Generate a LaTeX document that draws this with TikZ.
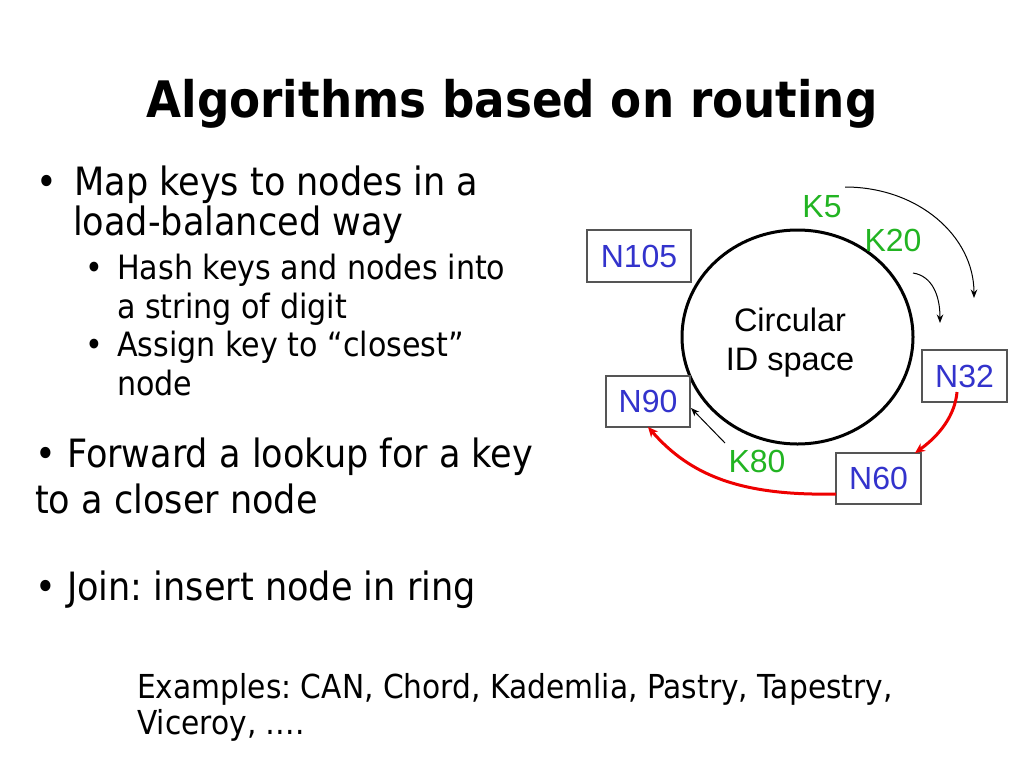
\documentclass[tikz,border=0pt]{standalone}
\usepackage{fontspec}
\setmainfont{DejaVu Sans}[FakeStretch=0.9]
\newfontfamily\arialf{Liberation Sans}
\usetikzlibrary{arrows.meta}
\definecolor{nblue}{HTML}{3333CC}
\definecolor{kgreen}{HTML}{22B422}
\definecolor{rred}{HTML}{EE0000}
\definecolor{boxgray}{HTML}{555555}
\frenchspacing
\begin{document}
\begin{tikzpicture}[x=1pt,y=-1pt,
  txt/.style={inner sep=0pt, anchor=base west, font=\fontsize{39}{46}\selectfont},
  subtxt/.style={inner sep=0pt, anchor=base west, font=\fontsize{33.5}{40}\selectfont},
  extxt/.style={inner sep=0pt, anchor=base west, font=\fontsize{33}{40}\selectfont},
  titletxt/.style={inner sep=0pt, anchor=base, font=\fontsize{50.3}{60}\selectfont\bfseries},
  nbox/.style={draw=boxgray, line width=1.2pt, text=nblue, inner sep=0pt,
    font=\arialf\fontsize{32}{38}\selectfont},
  klabel/.style={inner sep=0pt, anchor=base, text=kgreen, font=\arialf\fontsize{32}{38}\selectfont},
  ctxt/.style={inner sep=0pt, anchor=base, font=\arialf\fontsize{32.5}{38}\selectfont},
  thinarrow/.style={draw=black, line width=1pt, -{Stealth[length=8.5pt,width=6.5pt]}},
  redarrow/.style={draw=rred, line width=3pt, -{Stealth[length=10pt,width=9pt]}}
]
\useasboundingbox[fill=white] (0,0) rectangle (1024,768);

% title
\node[titletxt] (title) at (512,117) {Algorithms based on routing};

% bullets
\node[txt] (b1) at (36,195) {•};
\node[txt] (l1a) at (74,195) {Map keys to nodes in a};
\node[txt] (l1b) at (73,235) {load-balanced way};
\node[subtxt] (b2) at (85,279) {•};
\node[subtxt] (l2a) at (117,279) {Hash keys and nodes into};
\node[subtxt] (l2b) at (117,318) {a string of digit};
\node[subtxt] (b3) at (85,356) {•};
\node[subtxt] (l3a) at (117,356) {Assign key to “closest”};
\node[subtxt] (l3b) at (117,395) {node};
\node[txt] (l4a) at (35,467) {• Forward a lookup for a key};
\node[txt] (l4b) at (35,513) {to a closer node};
\node[txt] (l5) at (35,600) {• Join: insert node in ring};
\node[extxt] (ex1) at (137,698) {Examples: CAN, Chord, Kademlia, Pastry, Tapestry,};
\node[extxt] (ex2) at (137,734) {Viceroy, ….};

% ring
\draw[line width=3pt] (797.5,337) ellipse [x radius=115.5, y radius=107];
\node[ctxt] (c1) at (790,331) {Circular};
\node[ctxt] (c2) at (790,370) {ID space};

% nodes
\node[nbox, minimum width=104pt, minimum height=52pt] (n105) at (639,256) {N105};
\node[nbox, minimum width=85pt, minimum height=52pt] (n32) at (964.5,376) {N32};
\node[nbox, minimum width=84pt, minimum height=51pt] (n90) at (648,401.5) {N90};
\node[nbox, minimum width=85pt, minimum height=51pt] (n60) at (878.5,478.5) {N60};

% keys
\node[klabel] (k5) at (822,217) {K5};
\node[klabel] (k20) at (893,251) {K20};
\node[klabel] (k80) at (757,472) {K80};

% connectors
\coordinate (a1s) at (845,187);
\coordinate (a1e) at (974,298);
\draw[thinarrow] (a1s) .. controls (918,187) and (974,236) .. (a1e);
\coordinate (a2s) at (913,273);
\coordinate (a2e) at (940,323);
\draw[thinarrow] (a2s) .. controls (932,276) and (940,295) .. (a2e);
\coordinate (a3s) at (725,443);
\coordinate (a3e) at (691,408);
\draw[thinarrow] (a3s) -- (a3e);
\coordinate (r1s) at (957,392);
\coordinate (r1e) at (915,453);
\draw[redarrow] (r1s) .. controls (955,415) and (940,435) .. (r1e);
\coordinate (r2s) at (836,494);
\coordinate (r2e) at (648,427);
\draw[redarrow] (r2s) .. controls (740,496) and (690,475) .. (r2e);
\end{tikzpicture}
\end{document}
